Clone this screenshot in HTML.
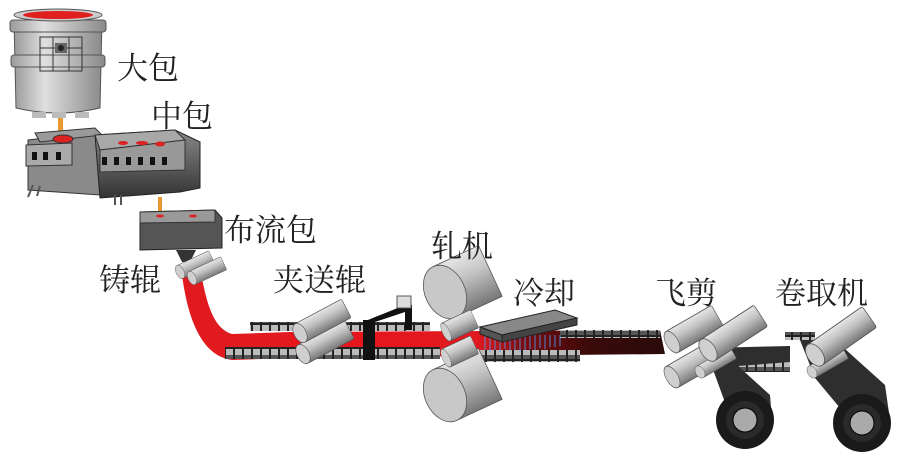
<!DOCTYPE html>
<html><head><meta charset="utf-8"><style>
html,body{margin:0;padding:0;background:#fff}
svg{display:block}
text{font-family:"Liberation Serif","Noto Serif CJK SC",serif;font-size:31px;fill:#222}
</style></head><body>
<svg width="913" height="459" viewBox="0 0 913 459" xmlns="http://www.w3.org/2000/svg">
<defs>
<linearGradient id="g1" x1="0" x2="1" y1="0" y2="0"><stop offset="0" stop-color="#9a9a9a"/><stop offset=".35" stop-color="#e0e0e0"/><stop offset="1" stop-color="#8a8a8a"/></linearGradient>
<linearGradient id="cyl" x1="0" x2="0" y1="0" y2="1"><stop offset="0" stop-color="#e6e6e6"/><stop offset=".4" stop-color="#c4c4c4"/><stop offset="1" stop-color="#777"/></linearGradient>
<linearGradient id="dk" x1="0" x2="0" y1="0" y2="1"><stop offset="0" stop-color="#888"/><stop offset="1" stop-color="#333"/></linearGradient>
<linearGradient id="strip" x1="0" x2="1" y1="0" y2="0"><stop offset="0" stop-color="#e8141c"/><stop offset=".5" stop-color="#e01a1f"/><stop offset=".62" stop-color="#7a0c0e"/><stop offset=".8" stop-color="#3a0a0a"/><stop offset="1" stop-color="#2a0a0a"/></linearGradient>
<g id="c"><rect x="0" y="-11" width="70" height="22" rx="2" fill="url(#cyl)" stroke="#555" stroke-width=".8"/><ellipse cx="0" cy="0" rx="8" ry="11" fill="#cfcfcf" stroke="#555" stroke-width=".8"/></g>
<g id="cb"><rect x="0" y="-28" width="50" height="56" fill="url(#cyl)" stroke="#555" stroke-width=".8"/><ellipse cx="0" cy="0" rx="20" ry="28" fill="#c8c8c8" stroke="#555" stroke-width=".8"/></g>
<pattern id="tab" width="9" height="12" patternUnits="userSpaceOnUse"><rect width="9" height="12" fill="#222"/><rect x="1" y="1" width="7" height="6" fill="#bbb"/><rect x="1" y="7" width="7" height="4" fill="#555"/></pattern>
</defs>

<!-- ladle -->
<path d="M14 20 L102 20 L100 108 Q58 118 16 108 Z" fill="url(#g1)" stroke="#555"/>
<rect x="10" y="20" width="96" height="12" rx="3" fill="url(#g1)" stroke="#555"/>
<rect x="11" y="55" width="94" height="12" rx="3" fill="url(#g1)" stroke="#555"/>
<ellipse cx="58" cy="15" rx="44" ry="6" fill="#ccc" stroke="#555"/>
<ellipse cx="58" cy="15" rx="35" ry="4" fill="#e01f1f"/>
<path d="M40 37h42v34h-42zM40 48h42M53 37v34M69 37v34" fill="none" stroke="#333"/>
<rect x="55" y="43" width="12" height="10" fill="#666"/><circle cx="61" cy="48" r="3" fill="#222"/>
<rect x="32" y="112" width="14" height="6" fill="#bbb"/><rect x="52" y="112" width="14" height="6" fill="#bbb"/><rect x="75" y="112" width="14" height="6" fill="#bbb"/>
<rect x="58" y="118" width="5" height="14" fill="#e89a30"/>

<!-- tundish -->
<polygon points="28,140 95,132 100,140 100,195 28,190" fill="#8a8a8a" stroke="#333"/>
<polygon points="35,133 95,128 102,135 40,142" fill="#9a9a9a" stroke="#333"/>
<polygon points="26,145 72,143 72,165 26,166" fill="#aaa" stroke="#333"/>
<rect x="32" y="152" width="5" height="8" fill="#111"/><rect x="43" y="152" width="5" height="8" fill="#111"/><rect x="56" y="152" width="5" height="8" fill="#111"/>
<ellipse cx="63" cy="139" rx="10" ry="4" fill="#d22" stroke="#333"/>
<polygon points="95,135 175,130 200,142 200,188 180,192 100,198" fill="url(#dk)" stroke="#222"/>
<polygon points="95,135 175,130 185,140 100,150" fill="#a8a8a8" stroke="#333"/>
<polygon points="100,150 185,140 185,170 100,172" fill="#999" stroke="#333"/>
<g fill="#111"><rect x="102" y="157" width="5" height="8"/><rect x="114" y="157" width="5" height="8"/><rect x="126" y="157" width="5" height="8"/><rect x="138" y="157" width="5" height="8"/><rect x="150" y="157" width="5" height="8"/><rect x="162" y="157" width="5" height="8"/></g>
<ellipse cx="123" cy="143" rx="5" ry="2" fill="#d22"/><ellipse cx="142" cy="143" rx="6" ry="2" fill="#d22"/><ellipse cx="160" cy="144" rx="5" ry="2.5" fill="#d22"/>
<path d="M33 185l-5 12M40 186l-3 10M115 195v10M121 195v10" stroke="#555" stroke-width="2"/>
<rect x="158" y="197" width="4" height="14" fill="#e89a30"/>

<!-- distributor -->
<polygon points="140,212 215,210 222,218 222,248 140,250" fill="#555" stroke="#222"/>
<polygon points="140,212 215,210 215,222 140,223" fill="#999" stroke="#333"/>
<ellipse cx="160" cy="216" rx="4" ry="1.5" fill="#d22"/><ellipse cx="193" cy="216" rx="4" ry="1.5" fill="#d22"/>
<polygon points="176,250 196,250 190,262 182,262" fill="#333"/>

<!-- red strip -->
<path d="M200 268 C206 300 212 328 232 334 L290 332 L290 358 L232 360 C202 356 188 320 182 275 Z" fill="#e01a1f"/>
<polygon points="290,332 660,330 665,354 290,358" fill="url(#strip)"/>
<!-- tables -->
<rect x="225" y="347" width="215" height="12" fill="url(#tab)"/>
<rect x="470" y="350" width="110" height="12" fill="url(#tab)"/>
<rect x="250" y="322" width="180" height="9" fill="url(#tab)"/>
<rect x="560" y="330" width="100" height="8" fill="url(#tab)"/>
<rect x="785" y="332" width="30" height="8" fill="url(#tab)"/>
<rect x="735" y="362" width="55" height="10" fill="url(#tab)"/>

<!-- casting rolls -->
<g transform="translate(180,272) rotate(-25) scale(.5,.65)"><use href="#c"/></g>
<g transform="translate(192,278) rotate(-25) scale(.5,.65)"><use href="#c"/></g>
<!-- pinch rolls -->
<g transform="translate(303,354) rotate(-28) scale(.75,.95)"><use href="#c"/></g>
<g transform="translate(300,333) rotate(-28) scale(.75,.95)"><use href="#c"/></g>
<!-- sensor -->
<rect x="363" y="320" width="12" height="40" fill="#111"/>
<polygon points="363,322 405,305 412,305 412,330 405,330 405,312 375,322" fill="#111"/>
<rect x="397" y="296" width="14" height="12" fill="#ddd" stroke="#555"/>
<!-- mill -->
<g transform="translate(445,395) rotate(-25)"><use href="#cb"/></g>
<g transform="translate(445,292) rotate(-25)"><use href="#cb"/></g>
<g transform="translate(446,358) rotate(-25) scale(.45,.9)"><use href="#c"/></g>
<g transform="translate(446,332) rotate(-25) scale(.45,.9)"><use href="#c"/></g>
<!-- cooler -->
<g stroke="#4aa8ff" stroke-width="1" opacity=".8"><path d="M485 335v15M490 335v17M495 335v15M500 335v17M505 335v14M510 335v16M515 335v15M520 335v17M525 335v15M530 335v14M535 335v15M540 335v13M545 335v14M550 335v12M555 335v12M560 335v11"/></g>
<polygon points="480,327 555,310 577,318 502,335" fill="#888" stroke="#222"/>
<polygon points="480,327 502,335 502,342 480,334" fill="#555" stroke="#222"/>
<polygon points="502,335 577,318 577,325 502,342" fill="#444" stroke="#222"/>
<!-- coilers strips -->
<path d="M705 348 L790 346 L790 362 L738 366 L770 395 L772 420 L735 430 L715 375 Z" fill="#2e2e2e"/>
<path d="M800 340 L835 340 L885 385 L890 420 L860 432 L815 378 Z" fill="#2e2e2e"/>
<circle cx="745" cy="420" r="29" fill="#1a1a1a"/><circle cx="745" cy="420" r="19" fill="#2a2a2a"/><circle cx="745" cy="420" r="12" fill="#aaa" stroke="#000"/>
<circle cx="862" cy="423" r="29" fill="#1a1a1a"/><circle cx="862" cy="423" r="19" fill="#2a2a2a"/><circle cx="862" cy="423" r="12" fill="#aaa" stroke="#000"/>
<!-- shear rolls -->
<g transform="translate(672,377) rotate(-30) scale(.75,1.1)"><use href="#c"/></g>
<g transform="translate(672,342) rotate(-30) scale(.75,1.1)"><use href="#c"/></g>
<g transform="translate(700,372) rotate(-30) scale(.55,.6)"><use href="#c"/></g>
<g transform="translate(708,350) rotate(-33) scale(.9,1.15)"><use href="#c"/></g>
<g transform="translate(812,372) rotate(-30) scale(.55,.6)"><use href="#c"/></g>
<g transform="translate(815,355) rotate(-35) scale(.95,1.15)"><use href="#c"/></g>

<!-- labels -->
<text x="117" y="79">大包</text>
<text x="151" y="127">中包</text>
<text x="224" y="241">布流包</text>
<text x="99" y="291">铸辊</text>
<text x="273" y="291">夹送辊</text>
<text x="431" y="257">轧机</text>
<text x="513" y="304">冷却</text>
<text x="655" y="304">飞剪</text>
<text x="775" y="304">卷取机</text>
</svg>
</body></html>
